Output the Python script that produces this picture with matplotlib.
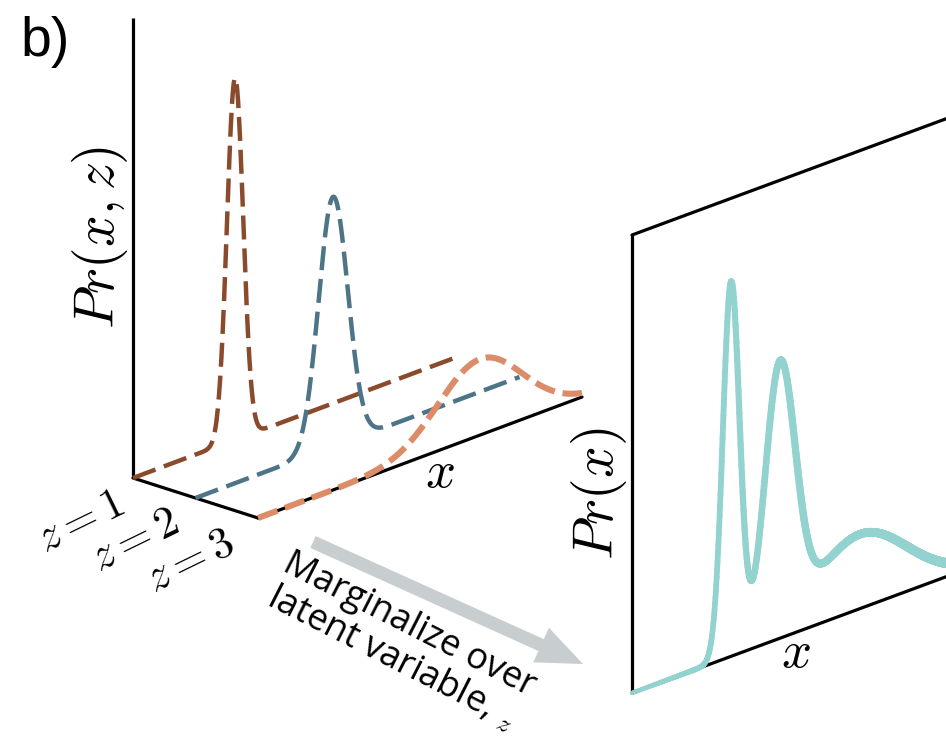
import matplotlib
matplotlib.use("Agg")
import matplotlib.pyplot as plt
import numpy as np
from matplotlib.collections import LineCollection
from matplotlib.patches import FancyArrow

plt.rcParams['mathtext.fontset'] = 'cm'

# latent components: position along x (0..1), width, relative peak height
comp_names = ['z = 1', 'z = 2', 'z = 3']
comp_means = [0.315, 0.425, 0.685]
comp_sigmas = [0.025, 0.045, 0.13]
comp_heights = [1.0, 0.69, 0.21]
comp_colors = ['#8a4a2c', '#4d7487', '#dc8c69']

# marginal (same three bumps)
marg_means = [0.296, 0.442, 0.68]
marg_sigmas = [0.025, 0.045, 0.14]
marg_heights = [1.0, 0.70, 0.20]

marg_color = '#93d3cf'
arrow_color = '#c8cdcf'

t = np.linspace(0, 1, 800)


def bump(m, s, h):
    return h * np.exp(-0.5 * ((t - m) / s) ** 2)


fig = plt.figure(figsize=(9.46, 7.44), dpi=100)
ax = fig.add_axes([0, 0, 1, 1])
ax.set_xlim(0, 946)
ax.set_ylim(744, 0)
ax.set_aspect('equal')
ax.axis('off')

# ---- left panel: joint Pr(x, z) in oblique projection
O = np.array([133.0, 478.0])
X = np.array([324.0, -121.0])
Z = np.array([62.5, 20.0])
hscale = 362.0

k = '#000000'
ax.plot([O[0], O[0]], [18, O[1]], color=k, lw=2.3, solid_capstyle='butt')
ax.plot([O[0], O[0] + 2 * Z[0]], [O[1], O[1] + 2 * Z[1]], color=k, lw=2.3,
        solid_capstyle='round')
ax.plot([O[0] + 2 * Z[0], O[0] + 2 * Z[0] + X[0]],
        [O[1] + 2 * Z[1], O[1] + 2 * Z[1] + X[1]], color=k, lw=2.3,
        solid_capstyle='round')

widths = [3.2, 3.2, 4.4]
dashes = [(5.4, 2.0), (5.4, 2.0), (3.4, 1.3)]
for i in range(3):
    y = bump(comp_means[i], comp_sigmas[i], comp_heights[i])
    px = O[0] + i * Z[0] + t * X[0]
    py = O[1] + i * Z[1] + t * X[1] - hscale * y
    ax.plot(px, py, color=comp_colors[i], lw=widths[i], dashes=dashes[i],
            dash_capstyle='butt', dash_joinstyle='round', zorder=3 + i)

ax.text(100, 237, r'$Pr(x,z)$', fontsize=40, rotation=90, ha='center', va='center')
ax.text(440, 472, r'$x$', fontsize=38, ha='center', va='center')

label_pos = [(80, 521), (135, 540), (190, 561)]
for name, (lx, ly) in zip(comp_names, label_pos):
    ax.text(lx, ly, '$' + name + '$', fontsize=32, rotation=26,
            ha='center', va='center', rotation_mode='anchor')

ax.text(20, 42, 'b)', fontsize=40, family='Liberation Sans', ha='left', va='center')

# ---- arrow + caption
ax.add_patch(FancyArrow(313, 542, 270, 122, width=13, head_width=38, head_length=46,
                        length_includes_head=True, color=arrow_color, lw=0))
ax.text(400, 642, 'Marginalize over\nlatent variable, $_{z}$', fontsize=26,
        family='Open Sans', rotation=-27, ha='center', va='center',
        rotation_mode='anchor', linespacing=1.05)

# ---- right panel: marginal Pr(x)
P = np.array([632.0, 693.0])
R = np.array([335.0, -124.0])
top = 693.0 - 235.0
rscale = 372.0

ax.plot([P[0], P[0]], [P[1], P[1] - top], color=k, lw=2.3, solid_capstyle='round')
ax.plot([P[0], P[0] + R[0]], [P[1] - top, P[1] - top + R[1]], color=k, lw=2.3,
        solid_capstyle='round')
ax.plot([P[0], P[0] + R[0]], [P[1], P[1] + R[1]], color=k, lw=2.3,
        solid_capstyle='round')

marg = sum(bump(m, s, h) for m, s, h in zip(marg_means, marg_sigmas, marg_heights))
mx = P[0] + t * R[0]
my = P[1] + t * R[1] - rscale * marg
pts = np.column_stack([mx, my]).reshape(-1, 1, 2)
segs = np.concatenate([pts[:-1], pts[1:]], axis=1)
lc = LineCollection(segs, colors=marg_color, linewidths=np.linspace(3.0, 7.5, len(segs)),
                    capstyle='round', joinstyle='round', zorder=4)
ax.add_collection(lc)

ax.text(599, 494, r'$Pr(x)$', fontsize=40, rotation=90, ha='center', va='center')
ax.text(796, 652, r'$x$', fontsize=38, ha='center', va='center')

fig.savefig('out.png', dpi=100)
